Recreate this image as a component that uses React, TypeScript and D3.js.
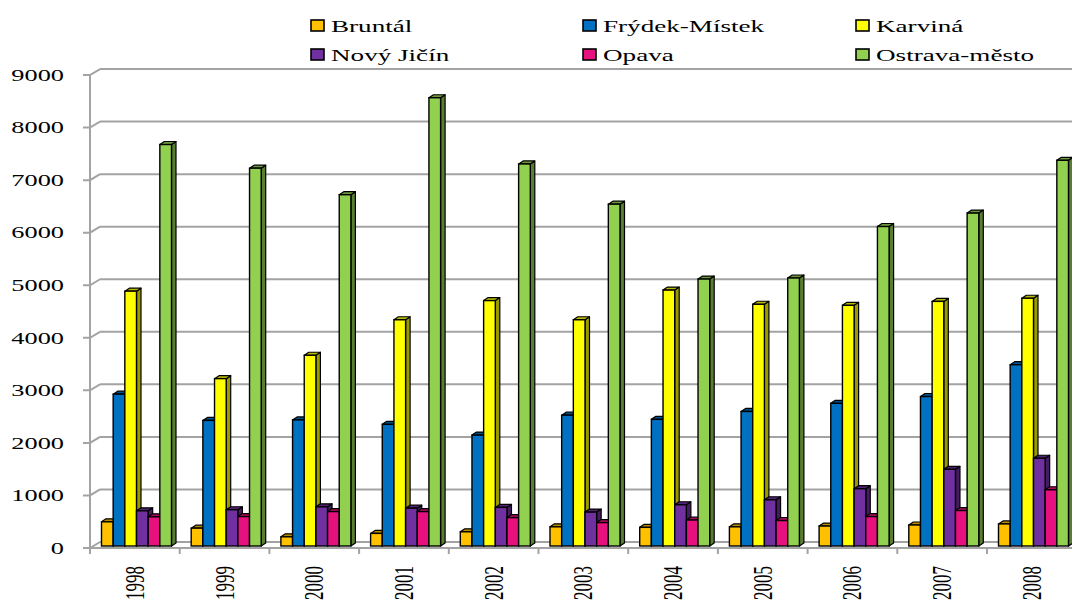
import React from "react";
import * as d3 from "d3";

const years = ["1998", "1999", "2000", "2001", "2002", "2003", "2004", "2005", "2006", "2007", "2008"];
const seriesNames = ["Bruntál", "Frýdek-Místek", "Karviná", "Nový Jičín", "Opava", "Ostrava-město"];
const seriesColors = ["#FFC000", "#0070C0", "#FFFF00", "#7030A0", "#E6117F", "#92D050"];

const bruntal = [460, 340, 175, 240, 270, 365, 355, 365, 380, 400, 420];
const frydekMistek = [2890, 2390, 2400, 2315, 2110, 2490, 2410, 2560, 2715, 2845, 3450];
const karvina = [4850, 3185, 3630, 4305, 4670, 4305, 4870, 4600, 4580, 4655, 4715];
const novyJicin = [670, 690, 745, 720, 735, 645, 785, 880, 1090, 1460, 1670];
const opava = [555, 560, 655, 655, 540, 445, 495, 485, 560, 675, 1070];
const ostravaMesto = [7640, 7190, 6685, 8530, 7270, 6505, 5080, 5100, 6080, 6335, 7340];

const yTickValues = [0, 1000, 2000, 3000, 4000, 5000, 6000, 7000, 8000, 9000];

const seriesValues = [bruntal, frydekMistek, karvina, novyJicin, opava, ostravaMesto];

const W = 1072;
const H = 609;
const FONT = "'Liberation Serif', 'Times New Roman', serif";
const STRETCH = 1.55;

export default function App() {
  const x0 = d3.scaleBand<string>().domain(years).range([90, 90 + 11 * 89.7]).padding(0);
  const x1 = d3.scaleBand<string>().domain(seriesNames).range([0, 70]).padding(0);
  const baseY = 546;
  const yBar = d3.scaleLinear().domain([0, 9000]).range([baseY, baseY - 9 * 52.55]);
  const yFront = d3.scaleLinear().domain([0, 9000]).range([548, 548 - 9 * 52.55]);
  const DX = 10;
  const DY = -6;
  const bdx = 4.5;
  const bdy = 3;
  const groupOffset = 11.5;
  const bw = x1.bandwidth();
  const gridColor = "#a3a3a3";

  const bars: React.ReactNode[] = [];
  years.forEach((yr, i) => {
    seriesNames.forEach((name, j) => {
      const v = seriesValues[j][i];
      const x = (x0(yr) as number) + groupOffset + (x1(name) as number);
      const y = yBar(v);
      const c = seriesColors[j];
      const top = d3.color(c)!.darker(0.9).formatHex();
      const side = d3.color(c)!.darker(1.4).formatHex();
      bars.push(
        <g key={yr + name}>
          <polygon
            points={`${x + bw},${y} ${x + bw + bdx},${y - bdy} ${x + bw + bdx},${baseY - bdy} ${x + bw},${baseY}`}
            fill={side}
            stroke="#000"
            strokeWidth={1.2}
            strokeLinejoin="round"
          />
          <polygon
            points={`${x},${y} ${x + bdx},${y - bdy} ${x + bw + bdx},${y - bdy} ${x + bw},${y}`}
            fill={top}
            stroke="#000"
            strokeWidth={1.2}
            strokeLinejoin="round"
          />
          <rect x={x} y={y} width={bw} height={baseY - y} fill={c} stroke="#000" strokeWidth={1.4} />
        </g>
      );
    });
  });

  const legendCols = [311, 583, 856];
  const legendRows = [20, 49];

  return (
    <svg width={W} height={H} style={{ position: "absolute", left: 0, top: 0, background: "#fff" }}>
      <rect x={0} y={0} width={W} height={H} fill="#fff" />
      {/* wall gridlines and y ticks */}
      {yTickValues.map((v) => {
        const yf = yFront(v);
        return (
          <g key={"g" + v}>
            <line x1={100} x2={W} y1={yf + DY} y2={yf + DY} stroke={gridColor} strokeWidth={2} />
            <polyline
              points={`83,${yf} 90,${yf} ${90 + DX},${yf + DY}`}
              fill="none"
              stroke={gridColor}
              strokeWidth={2}
            />
            <text
              transform={`translate(64,${yf}) scale(${STRETCH},1)`}
              textAnchor="end"
              dy="0.34em"
              fontFamily={FONT}
              fontSize={17}
              fill="#000"
            >
              {v}
            </text>
          </g>
        );
      })}
      {/* vertical axis */}
      <line x1={90} x2={90} y1={yFront(9000)} y2={yFront(0)} stroke={gridColor} strokeWidth={2} />
      {/* front x axis */}
      <line x1={90} x2={W} y1={yFront(0)} y2={yFront(0)} stroke={gridColor} strokeWidth={2} />
      {years.map((yr) => (
        <line
          key={"t" + yr}
          x1={x0(yr) as number}
          x2={x0(yr) as number}
          y1={yFront(0)}
          y2={yFront(0) + 6}
          stroke={gridColor}
          strokeWidth={2}
        />
      ))}
      {bars}
      {years.map((yr) => {
        const cx = (x0(yr) as number) + x0.bandwidth() / 2;
        return (
          <text
            key={"l" + yr}
            transform={`translate(${cx},566) scale(${STRETCH},1) rotate(-90)`}
            textAnchor="end"
            dy="0.34em"
            fontFamily={FONT}
            fontSize={17}
            fill="#000"
          >
            {yr}
          </text>
        );
      })}
      {/* legend */}
      {seriesNames.map((name, k) => {
        const col = k % 3;
        const row = Math.floor(k / 3);
        const lx = legendCols[col];
        const ly = legendRows[row];
        return (
          <g key={"lg" + name}>
            <rect x={lx} y={ly} width={13} height={11} fill={seriesColors[k]} stroke="#000" strokeWidth={1.6} />
            <text
              transform={`translate(${lx + 20},${ly + 11.5}) scale(${STRETCH},1)`}
              fontFamily={FONT}
              fontSize={17.5}
              fill="#000"
            >
              {name}
            </text>
          </g>
        );
      })}
    </svg>
  );
}
